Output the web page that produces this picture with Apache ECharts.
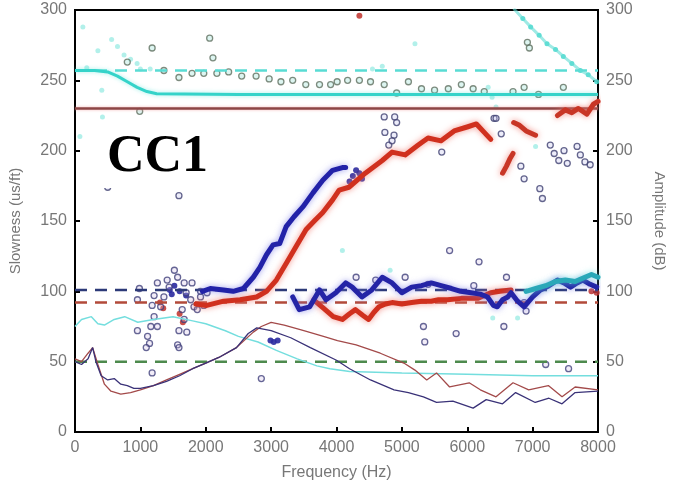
<!DOCTYPE html>
<html><head><meta charset="utf-8">
<script src="https://cdn.jsdelivr.net/npm/echarts@6/dist/echarts.min.js"></script>
<style>html,body{margin:0;padding:0;background:#fff}#c{width:675px;height:489px}</style>
</head><body><div id="c"></div>
<script>
// ---- data (frequency Hz, value) ----
const xTicks = [0,1000,2000,3000,4000,5000,6000,7000,8000];
const levelCyan = 257, levelMaroon = 230, levelBlue = 101, levelRed = 92, levelGreen = 50;

const cyanThick = [[0,257],[300,257],[500,256],[650,253],[800,249],[950,245],[1100,242],[1250,240.5],[2500,240],[4000,240],[6000,240],[8000,240]];
const cyanDesc = [[6710,301],[6850,294],[6970,288],[7100,282],[7220,276],[7350,272],[7470,267],[7600,262],[7730,257],[7850,254],[7980,249]];
const cyanFaint = [[120,288],[350,271],[180,259],[410,243],[420,224],[75,210],[560,279],[650,274],[750,268],[850,265],[950,262],[6320,245],[6380,238],[6440,231],[7045,203],[5200,276],[4090,129],[4820,115],[6390,81],[6770,81],[1000,258],[1150,258],[4550,258],[4700,260]];

const blueThick = [[1950,100],[2070,102],[2270,101],[2420,100],[2576,102],[2727,110],[2828,117],[2929,126],[3030,133],[3131,134],[3230,146],[3350,153],[3485,160],[3640,170],[3790,179],[3940,186],[4090,188],[4140,188]];
const blueLow = [[3330,96],[3430,87],[3590,89],[3740,101],[3840,94],[3990,99],[4140,106],[4240,103],[4390,96],[4540,101],[4700,110],[4850,106],[5000,99],[5150,103],[5300,104],[5450,106],[5600,104],[5760,102],[5900,100],[6060,99],[6200,98],[6310,96],[6400,90],[6460,89],[6540,94],[6620,96],[6670,99],[6770,93],[6870,89],[7000,96],[7120,101],[7250,104],[7380,108],[7480,106],[7580,103],[7680,106],[7770,108],[7880,105],[7980,103]];
const blueBits = [[4200,178],[4250,182],[4300,186],[4350,184],[4390,180],[2990,65],[3040,64],[3100,65],[1450,101],[1480,98],[1520,104],[1600,100],[1700,97]];
const tealLow = [[6900,100],[7050,102],[7200,104],[7350,107],[7500,108],[7650,107],[7800,110],[7900,112],[8000,110]];

const redThick = [[1850,91],[2015,90],[2273,93],[2525,94],[2778,96],[2929,100],[3080,108],[3232,120],[3384,132],[3535,144],[3660,150],[3790,156],[3940,165],[4040,172],[4190,174],[4440,184],[4700,193],[4850,199],[5050,197],[5250,204],[5400,209],[5600,207],[5800,214],[6010,217],[6140,219],[6260,213],[6360,208]];
const redSegA = [[6540,184],[6600,189],[6650,194],[6700,198]];
const redSegB = [[6710,220],[6800,218],[6900,214],[7045,211]];
const redSegC = [[7380,225],[7500,229],[7600,227],[7700,230],[7830,226],[7930,233],[8000,235]];
const redLow = [[3650,94],[3800,88],[3950,82],[4090,80],[4200,84],[4290,87],[4400,83],[4490,80],[4570,85],[4650,89],[4750,91],[4850,92],[5000,91],[5150,92],[5300,93],[5450,93],[5560,94],[5700,94],[5910,95],[6050,95],[6160,95],[6260,97],[6360,99],[6500,100],[6670,101]];
const redDots = [[4350,296],[7900,100],[7980,99],[1300,92],[1350,88],[1600,84],[1650,78]];

const hollowUpper = [[1180,273],[2060,280],[2110,266],[800,263],[1360,257],[1590,252],[1790,255],[1970,255],[2170,255],[2350,256],[2550,253],[2770,253],[2970,251],[3150,249],[3330,250],[3530,247],[3740,247],[3910,247],[4010,249],[4170,250],[4350,250],[4520,249],[4730,247],[4920,241],[5100,249],[5300,244],[5500,243],[5710,244],[5910,247],[6090,244],[6260,242],[6700,242],[6870,245],[7090,240],[7470,245],[6920,277],[6950,273],[990,228]];
const hollowMid = [[4730,224],[4890,224],[4920,220],[4740,213],[4880,211],[4800,204],[4850,207],[5610,199],[6410,223],[6520,212],[6440,223],[6820,189],[6870,180],[7110,173],[7150,166],[7270,204],[7330,198],[7400,193],[7480,200],[7530,191],[7680,203],[7730,197],[7800,192],[7880,190],[1590,168],[500,174]];
const hollowLow = [[985,102],[955,94],[1180,90],[1210,97],[1260,106],[1410,108],[1520,115],[1570,110],[1440,103],[1360,96],[1310,89],[1210,82],[1160,75],[1260,75],[955,72],[1110,68],[1140,63],[1670,106],[1700,99],[1770,94],[1640,87],[1670,80],[1590,72],[1710,71],[1570,62],[1820,89],[1870,87],[1970,90],[1920,96],[1790,106],[1920,100],[2020,99],[1180,42],[2850,38],[1090,60],[1590,60],[5730,129],[6180,121],[5330,75],[5350,64],[5830,70],[6560,75],[7550,45],[7200,48],[4300,110],[4600,108],[5050,110],[5400,105],[6100,104],[6600,110],[6870,92],[6900,86]];

const ampRed = [[0,52],[100,50],[200,56],[270,60],[350,48],[450,34],[550,29],[700,27],[850,28],[1000,30],[1200,33],[1400,37],[1600,41],[1800,45],[2000,49],[2200,53],[2470,60],[2727,71],[2850,75],[3000,78],[3200,76],[3500,72],[3800,68],[4015,65],[4300,62],[4670,56],[5030,49],[5200,44],[5380,37],[5530,42],[5730,32],[6030,35],[6200,30],[6440,25],[6700,35],[6940,30],[7240,33],[7450,25],[7650,32],[8000,30]];
const ampBlue = [[0,50],[100,48],[200,52],[270,60],[320,50],[400,40],[500,37],[600,38],[700,34],[800,33],[900,31],[1000,31],[1200,33],[1400,36],[1600,40],[1800,45],[2000,49],[2200,53],[2470,60],[2650,70],[2780,74],[3000,72],[3300,67],[3600,60],[4000,51],[4200,45],[4520,37],[4880,30],[5100,28],[5330,25],[5530,21],[5780,22],[6090,17],[6290,23],[6540,20],[6740,28],[7040,21],[7250,24],[7450,20],[7650,28],[8000,29]];
const ampCyan = [[0,75],[100,80],[250,82],[350,77],[450,76],[600,80],[760,82],[960,78],[1200,80],[1500,82],[1800,79],[2000,77],[2300,72],[2500,68],[2800,64],[3080,58],[3400,52],[3700,47],[3900,45],[4200,43],[5000,42],[6000,41],[7000,40],[8000,40]];

// ---- chart ----
const chart = echarts.init(document.getElementById('c'));
const full = v => [[0,v],[8000,v]];
const axisCommon = {
  min:0, max:300, interval:50,
  axisLine:{show:true,lineStyle:{color:'#000',width:2}},
  axisTick:{show:true,inside:true,length:5,lineStyle:{color:'#000',width:2}},
  axisLabel:{color:'#777',fontSize:16,fontFamily:'Liberation Sans, Arial'},
  splitLine:{show:false},
  nameLocation:'middle',
  nameTextStyle:{color:'#777',fontSize:15,fontFamily:'Liberation Sans, Arial'}
};
function line(data, color, width, opts){
  return Object.assign({type:'line',data:data,symbol:'none',silent:true,animation:false,
    lineStyle:Object.assign({color:color,width:width},opts||{})}, {});
}
function thick(data,color,halo){
  return {type:'line',data:data,symbol:'none',animation:false,
    lineStyle:{color:color,width:5,shadowColor:halo,shadowBlur:6,join:'round',cap:'round'}};
}
function hollow(data,border,fill,size){
  return {type:'scatter',data:data,symbol:'circle',symbolSize:size||6,animation:false,
    itemStyle:{color:fill,borderColor:border,borderWidth:1.3}};
}
function dots(data,color,size,op){
  return {type:'scatter',data:data,symbol:'circle',symbolSize:size,animation:false,
    itemStyle:{color:color,opacity:op==null?1:op}};
}
const option = {
  backgroundColor:'#fff',
  animation:false,
  grid:{left:70,right:77,top:10,bottom:57,show:true,borderColor:'#000',borderWidth:2},
  xAxis:{type:'value',min:0,max:8000,interval:1000,
    name:'Frequency (Hz)',nameLocation:'middle',nameGap:33,
    nameTextStyle:{color:'#777',fontSize:16,fontFamily:'Liberation Sans, Arial'},
    axisLine:{show:true,lineStyle:{color:'#000',width:2}},
    axisTick:{show:true,inside:true,length:5,lineStyle:{color:'#000',width:2}},
    axisLabel:{color:'#777',fontSize:16,fontFamily:'Liberation Sans, Arial',
      formatter:v=>xTicks.includes(v)?String(v):''},
    splitLine:{show:false}},
  yAxis:[
    Object.assign({},axisCommon,{type:'value',position:'left',name:'Slowness (us/ft)',nameGap:52,nameRotate:90}),
    Object.assign({},axisCommon,{type:'value',position:'right',name:'Amplitude (dB)',nameGap:54,nameRotate:-90})
  ],
  series:[
    dots(cyanFaint,'#7fe6dc',5,0.6),
    line(full(levelCyan),'#59dcd4',2.5,{type:[12,8]}),
    line(cyanThick,'#35d3c9',3,{shadowColor:'rgba(100,230,220,0.6)',shadowBlur:4}),
    dots(cyanDesc,'#45d8ce',5,0.85),
    line(cyanDesc,'#5fdcd4',3,{opacity:0.6}),
    line(full(levelMaroon),'#8c4646',2.5,{shadowColor:'rgba(240,150,150,0.7)',shadowBlur:3}),
    hollow(hollowUpper,'#5f6f5f','rgba(170,230,220,0.5)',6),
    hollow(hollowMid,'#3f4070','rgba(200,200,240,0.4)',6),
    Object.assign(line(full(levelBlue),'#2c3a78',2.5,{type:[12,8]}),{yAxisIndex:0}),
    line(full(levelRed),'#b24a3a',2.5,{type:[12,8]}),
    line(full(levelGreen),'#4d8a4d',2.5,{type:[12,8]}),
    Object.assign(line(ampCyan,'#74dede',1.5),{yAxisIndex:1}),
    Object.assign(line(ampRed,'#a34a4a',1.3),{yAxisIndex:1}),
    Object.assign(line(ampBlue,'#3a3278',1.3),{yAxisIndex:1}),
    thick(redLow,'#d0301e','rgba(240,120,110,0.8)'),
    thick(blueLow,'#2424a6','rgba(120,120,230,0.7)'),
    thick(tealLow,'#2aa8b8','rgba(100,220,220,0.7)'),
    thick(redThick,'#d0301e','rgba(240,120,110,0.8)'),
    thick(redSegA,'#c83626','rgba(240,120,110,0.8)'),
    thick(redSegB,'#c83626','rgba(240,120,110,0.8)'),
    thick(redSegC,'#c83626','rgba(240,120,110,0.8)'),
    thick(blueThick,'#2222a8','rgba(120,120,230,0.7)'),
    dots(blueBits,'#2a2aa0',6,0.9),
    dots(redDots,'#c0302a',6,0.85),
    hollow(hollowLow,'#40407a','rgba(210,190,230,0.35)',6)
  ],
  graphic:[{type:'text',left:103,top:128,z:100,
    style:{text:'CC1',font:'bold 52px "Liberation Serif", "Times New Roman", serif',fill:'#000',
      backgroundColor:'#fff',padding:[4,4,4,4]}}]
};
chart.setOption(option);
</script></body></html>
